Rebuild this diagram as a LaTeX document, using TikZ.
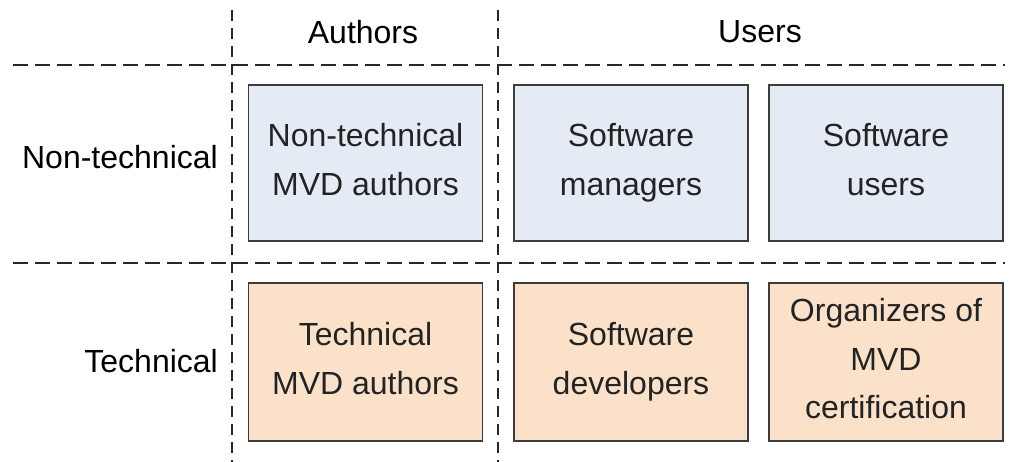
\documentclass[tikz,border=0pt]{standalone}
\usepackage{fontspec}
\setmainfont{Liberation Sans}
\definecolor{softblue}{RGB}{229,235,245}
\definecolor{softorange}{RGB}{252,225,202}
\definecolor{boxline}{RGB}{60,60,60}
\definecolor{gridline}{RGB}{40,40,40}
\definecolor{boxtext}{RGB}{35,35,35}
% vertical padding for the first and last line of a box label
\newcommand{\firstpad}{\rule{0pt}{30pt}}
\newcommand{\lastpad}{\rule[-14pt]{0pt}{14pt}}
\begin{document}
\begin{tikzpicture}[x=1pt,y=-1pt,
  every node/.style={font=\fontsize{32}{48.5}\selectfont},
  rolebox/.style={draw=boxline,line width=1.6pt,minimum width=234pt,
    align=center,text=boxtext,inner sep=0pt},
  plainrole/.style={rolebox,fill=softblue,minimum height=156pt},
  techrole/.style={rolebox,fill=softorange,minimum height=158pt},
  header/.style={text=black,inner sep=0pt},
  hdash/.style={gridline,line width=1.7pt,dash pattern=on 15pt off 7pt},
  vdash/.style={gridline,line width=1.7pt,dash pattern=on 11pt off 7pt}]
  \useasboundingbox (0,0) rectangle (1011,462);

  % grid separators
  \coordinate (v1top) at (232,10);
  \coordinate (v1bot) at (232,462);
  \coordinate (v2top) at (498,10);
  \coordinate (v2bot) at (498,462);
  \coordinate (h1left) at (13,65);
  \coordinate (h1right) at (1005,65);
  \coordinate (h2left) at (13,263);
  \coordinate (h2right) at (1005,263);
  \draw[vdash] (v1top) -- (v1bot);
  \draw[vdash] (v2top) -- (v2bot);
  \draw[hdash] (h1left) -- (h1right);
  \draw[hdash] (h2left) -- (h2right);

  % column and row headings
  \node[header] (authors) at (363,32) {Authors};
  \node[header] (users) at (760,32) {Users};
  \node[header,anchor=east] (nontech) at (218,157) {Non-technical};
  \node[header,anchor=east] (tech) at (218,361) {Technical};

  % role boxes
  \node[plainrole] (ntauthors) at (365.5,163) {\firstpad Non-technical\\MVD authors\lastpad};
  \node[plainrole] (managers) at (631,163) {\firstpad Software\\managers\lastpad};
  \node[plainrole] (swusers) at (886,163) {\firstpad Software\\users\lastpad};
  \node[techrole] (tauthors) at (365.5,362) {\firstpad Technical\\MVD authors\lastpad};
  \node[techrole] (developers) at (631,362) {\firstpad Software\\developers\lastpad};
  \node[techrole] (organizers) at (886,362) {\firstpad Organizers of\\MVD\\certification\lastpad};
\end{tikzpicture}
\end{document}
